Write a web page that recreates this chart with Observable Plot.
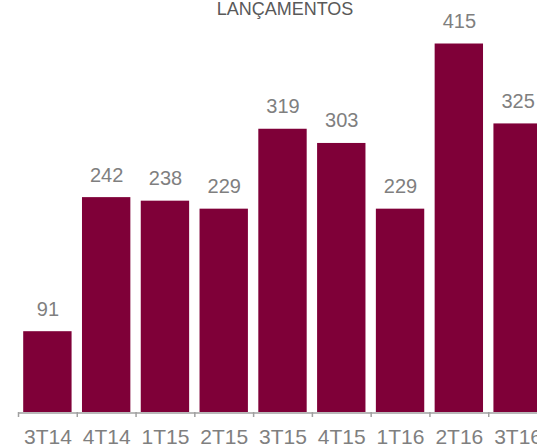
<!DOCTYPE html>
<html>
<head>
<meta charset="utf-8">
<script src="https://cdn.jsdelivr.net/npm/d3@7"></script>
<script src="https://cdn.jsdelivr.net/npm/@observablehq/plot@0.6"></script>
<style>
  html, body { margin: 0; padding: 0; background: #fff; overflow: hidden; }
  #chart { width: 537px; height: 445px; overflow: hidden; }
</style>
</head>
<body>
<div id="chart"></div>
<script>
const title = "LANÇAMENTOS";
const quarters = ["3T14", "4T14", "1T15", "2T15", "3T15", "4T15", "1T16", "2T16", "3T16"];
const launches = [91, 242, 238, 229, 319, 303, 229, 415, 325];

const data = quarters.map((q, i) => ({quarter: q, value: launches[i]}));

const W = 537, ML = 18, MR = -10;
const step = (W - ML - MR) / quarters.length;
const font = "'Liberation Sans', Arial, sans-serif";

const chart = Plot.plot({
  width: W,
  height: 445,
  marginLeft: ML,
  marginRight: MR,
  marginTop: 0,
  marginBottom: 33,
  style: {fontFamily: font, background: "#fff", overflow: "hidden"},
  x: {domain: quarters, paddingInner: 0.177, paddingOuter: 0.0885, align: 0.5, round: false},
  y: {domain: [0, 464], axis: null},
  marks: [
    Plot.barY(data, {x: "quarter", y: "value", fill: "#7f0038"}),
    Plot.ruleY([0], {stroke: "#a0a0a0", strokeWidth: 1.5, dy: 0.5}),
    Plot.axisX({tickSize: 5, tickFormat: () => "", dx: -step / 2, stroke: "#a0a0a0", strokeWidth: 1.5, label: null}),
    Plot.axisX({tickSize: 0, tickPadding: 17, fontSize: 21, color: "#7f7f7f", label: null}),
    Plot.text(data, {x: "quarter", y: "value", text: d => String(d.value), lineAnchor: "bottom", dy: -16, fontSize: 20, fill: "#7f7f7f"}),
    Plot.text([title], {frameAnchor: "top", lineAnchor: "bottom", dy: 14, dx: 2, fontSize: 18, fill: "#595959"})
  ]
});
document.getElementById("chart").append(chart);
</script>
</body>
</html>
